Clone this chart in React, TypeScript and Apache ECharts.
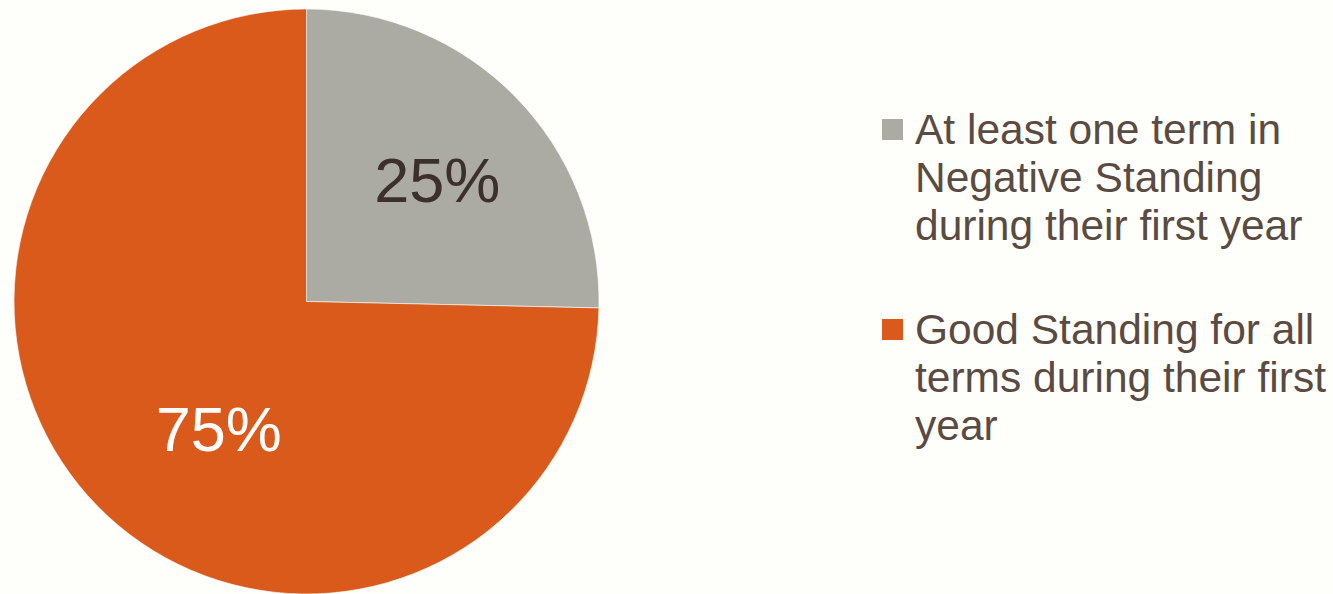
import React, { useEffect, useRef } from "react";
import * as echarts from "echarts";

const categories = [
  "At least one term in\nNegative Standing\nduring their first year",
  "Good Standing for all\nterms during their first\nyear",
];
const values = [25.35, 74.65];
const colors = ["#ABABA3", "#D95A1B"];
const labelColors = ["#3B302B", "#FFFFFF"];

export default function App() {
  const ref = useRef<HTMLDivElement>(null);
  useEffect(() => {
    if (!ref.current) return;
    const chart = echarts.init(ref.current, null, { renderer: "svg" });
    const legendTops = [105, 305];
    const graphic: any[] = [];
    categories.forEach((c, i) => {
      graphic.push({
        type: "rect",
        shape: { x: 882, y: legendTops[i] + 14, width: 21, height: 21 },
        style: { fill: colors[i] },
      });
      graphic.push({
        type: "text",
        x: 915,
        y: legendTops[i],
        style: {
          text: c,
          font: "42.5px 'Liberation Sans', Arial, sans-serif",
          lineHeight: 48,
          fill: "#5A4B42",
          verticalAlign: "top",
        },
      });
    });
    const offsets = [
      [24, -17],
      [19, 23],
    ];
    chart.setOption({
      animation: false,
      backgroundColor: "#FEFEFA",
      graphic,
      series: [
        {
          type: "pie",
          center: [306.5, 301.5],
          radius: [0, 292.5],
          startAngle: 90,
          clockwise: true,
          silent: true,
          itemStyle: { borderColor: "#FFFFFF", borderWidth: 0.6 },
          label: {
            show: true,
            position: "inside",
            fontFamily: "'Liberation Sans', Arial, sans-serif",
            fontSize: 63,
            formatter: (p: any) => Math.round(p.percent) + "%",
          },
          labelLine: { show: false },
          data: categories.map((c, i) => ({
            name: c,
            value: values[i],
            itemStyle: { color: colors[i] },
            label: { color: labelColors[i], offset: offsets[i] },
          })),
        },
      ],
    });
    return () => chart.dispose();
  }, []);
  return (
    <div
      ref={ref}
      style={{ position: "fixed", left: 0, top: 0, width: 1333, height: 594 }}
    />
  );
}
